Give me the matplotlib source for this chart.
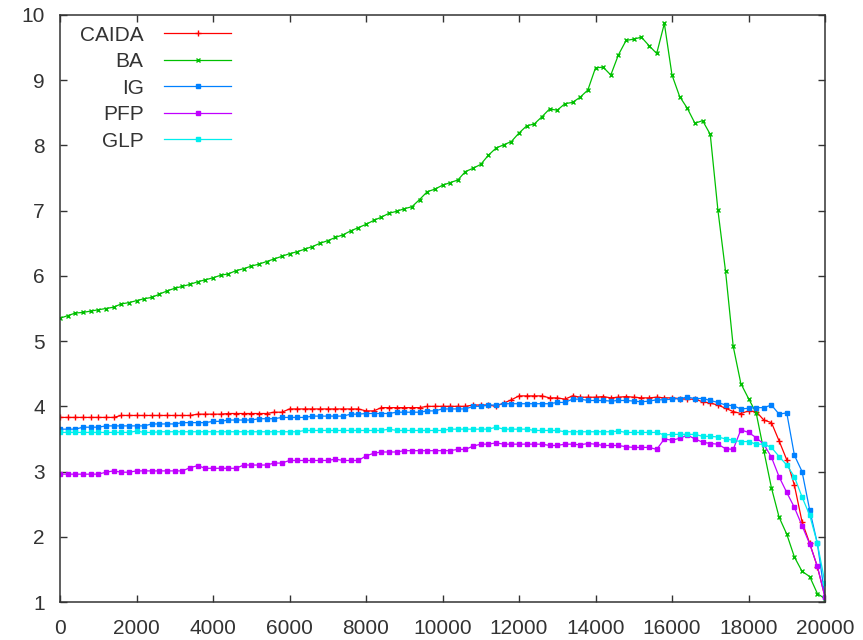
import numpy as np
import matplotlib
matplotlib.use("Agg")
import matplotlib.pyplot as plt

# x grid: 101 samples, 0 .. 20000
x = np.linspace(0, 20000, 101)

caida = ([3.83] * 8 + [3.86] * 10 + [3.88] * 4 + [3.89] * 6 + [3.91] * 2
         + [3.96] * 10 + [3.93] * 2 + [3.98] * 6 + [4.00] * 6 + [4.02] * 3
         + [4.00, 4.05, 4.10] + [4.16] * 4 + [4.13, 4.13, 4.11, 4.16, 4.14, 4.14]
         + [4.14, 4.15, 4.13, 4.14, 4.15, 4.14, 4.13, 4.13, 4.14, 4.13, 4.13, 4.12]
         + [4.11, 4.11, 4.07, 4.05, 4.02, 3.97, 3.92, 3.89, 3.93, 3.92,
            3.79, 3.75, 3.47, 3.18, 2.79, 2.23, 1.90, 1.54, 1.08])

ba = [5.35, 5.39, 5.43, 5.44, 5.46, 5.48, 5.50, 5.52, 5.57, 5.59,
      5.62, 5.65, 5.67, 5.72, 5.77, 5.81, 5.84, 5.87, 5.91, 5.94,
      5.97, 6.01, 6.03, 6.08, 6.11, 6.15, 6.18, 6.22, 6.26, 6.30,
      6.34, 6.37, 6.41, 6.45, 6.50, 6.54, 6.59, 6.63, 6.69, 6.74,
      6.79, 6.85, 6.90, 6.96, 6.99, 7.03, 7.06, 7.17, 7.29, 7.33,
      7.39, 7.43, 7.47, 7.60, 7.65, 7.71, 7.85, 7.96, 8.01, 8.06,
      8.19, 8.30, 8.33, 8.44, 8.56, 8.54, 8.64, 8.66, 8.74, 8.85,
      9.19, 9.20, 9.08, 9.39, 9.61, 9.63, 9.66, 9.53, 9.41, 9.87,
      9.08, 8.75, 8.57, 8.34, 8.38, 8.17, 7.01, 6.07, 4.92, 4.35,
      4.12, 3.90, 3.32, 2.75, 2.30, 2.04, 1.69, 1.47, 1.39, 1.13,
      1.05]

ig = ([3.65] * 3 + [3.68] * 3 + [3.70] * 6 + [3.73] * 4 + [3.75] * 4
      + [3.77] * 2 + [3.79] * 4 + [3.81] * 3 + [3.83] * 4 + [3.85] * 5
      + [3.88] * 2 + [3.89] * 4 + [3.91] * 4 + [3.93] * 2 + [3.96] * 4
      + [4.00] * 2 + [4.02] * 2 + [4.04] * 7 + [4.06] * 2 + [4.11] * 2
      + [4.09, 4.09, 4.09, 4.08, 4.09, 4.09, 4.08, 4.07, 4.08, 4.10, 4.10, 4.11, 4.12]
      + [4.14, 4.12, 4.12, 4.09, 4.06, 4.02, 4.01, 3.96, 3.97, 3.98,
         3.98, 4.02, 3.88, 3.90, 3.25, 3.00, 2.41, 1.90, 1.08])

pfp = ([2.96] * 6 + [2.99, 3.01, 2.99, 2.99] + [3.01] * 7 + [3.06, 3.09]
       + [3.05] * 5 + [3.10] * 4 + [3.13] * 2 + [3.17] * 6 + [3.19] + [3.17] * 3
       + [3.24, 3.28] + [3.30] * 3 + [3.32] * 7 + [3.34] * 2 + [3.39, 3.42, 3.42, 3.44]
       + [3.42] * 6 + [3.40] * 2 + [3.42, 3.42, 3.41, 3.43]
       + [3.42, 3.40, 3.40, 3.40, 3.38, 3.37, 3.37, 3.37]
       + [3.34, 3.50, 3.48, 3.51, 3.56, 3.50, 3.45, 3.43, 3.42, 3.35,
          3.34, 3.64, 3.60, 3.52, 3.42, 3.22, 2.92, 2.68, 2.45, 2.17,
          1.89, 1.55, 1.07])

glp = ([3.60] * 10 + [3.62] + [3.60] * 2 + [3.61] * 19 + [3.63] * 11 + [3.65]
       + [3.63] * 7 + [3.65] * 6 + [3.68] + [3.65] * 4 + [3.63] * 4
       + [3.61] * 7 + [3.62] + [3.60] * 5
       + [3.56, 3.57, 3.57, 3.57, 3.57, 3.54, 3.54, 3.53, 3.50, 3.48,
          3.46, 3.46, 3.42, 3.42, 3.37, 3.23, 3.10, 2.92, 2.61, 2.33,
          1.90, 1.29])

names = ["CAIDA", "BA", "IG", "PFP", "GLP"]
colors = ["#ff0000", "#00c000", "#0080ff", "#c000ff", "#00eeee"]
markers = ["+", "x", "s", "s", "s"]
msizes = [5, 3.5, 3, 3, 3]

plt.rcParams['font.family'] = ['Liberation Sans', 'DejaVu Sans']

fig = plt.figure(figsize=(8.63, 6.40), dpi=100)
ax = fig.add_axes([60 / 863, 38 / 640, 765 / 863, 587 / 640])

for ys, name, c, m, ms in zip([caida, ba, ig, pfp, glp], names, colors, markers, msizes):
    ax.plot(x, ys, color=c, lw=0.9, marker=m, ms=ms, mew=1.0, mfc=c, mec=c, label=name)

ax.set_xlim(0, 20000)
ax.set_ylim(1, 10)
ax.set_xticks(np.arange(0, 20001, 2000))
ax.set_yticks(np.arange(1, 11, 1))

for sp in ax.spines.values():
    sp.set_color("#333333")
    sp.set_linewidth(1.1)
ax.tick_params(direction="in", length=5, width=1, color="#333333",
               top=True, right=True, labelsize=15, labelcolor="#333333")
ax.tick_params(axis="x", pad=12)
ax.tick_params(axis="y", pad=11)

leg = ax.legend(loc="upper left", bbox_to_anchor=(0.026, 0.982), markerfirst=False,
                frameon=False, fontsize=15, handlelength=3.2, handletextpad=1.0,
                labelspacing=0.36, borderpad=0, borderaxespad=0, numpoints=1)
for t in leg.get_texts():
    t.set_color("#333333")

fig.savefig("out.png", dpi=100)
